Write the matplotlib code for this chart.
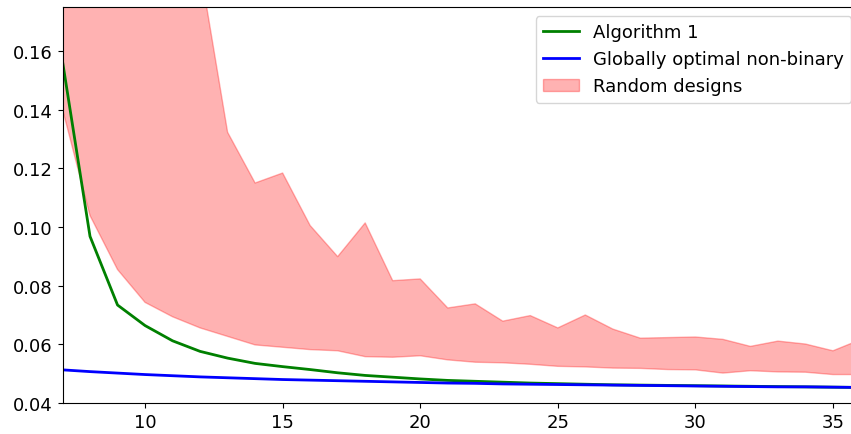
import numpy as np
import matplotlib
matplotlib.use("Agg")
import matplotlib.pyplot as plt

plt.rcParams['font.size'] = 13

# block lengths
n = list(range(7, 37))

algorithm_1 = [0.1565, 0.0968, 0.0734, 0.0664, 0.0612, 0.0576, 0.0553, 0.0535,
               0.0524, 0.0514, 0.0503, 0.0494, 0.0488, 0.0482, 0.0477, 0.0474,
               0.0471, 0.0468, 0.0466, 0.0464, 0.0462, 0.0461, 0.0460, 0.0459,
               0.0458, 0.0457, 0.0456, 0.0455, 0.0454, 0.0453]

optimal_nonbinary = [0.0513, 0.0507, 0.0502, 0.0497, 0.0493, 0.0489, 0.0486,
                     0.0483, 0.0480, 0.0478, 0.0476, 0.0474, 0.0472, 0.0470,
                     0.0468, 0.0467, 0.0465, 0.0464, 0.0463, 0.0462, 0.0461,
                     0.0460, 0.0459, 0.0458, 0.0457, 0.0456, 0.0455, 0.0455,
                     0.0454, 0.0453]

random_low = [0.1402, 0.1039, 0.0855, 0.0743, 0.0694, 0.0656, 0.0627, 0.0598,
              0.0590, 0.0582, 0.0578, 0.0558, 0.0556, 0.0561, 0.0547, 0.0539,
              0.0537, 0.0532, 0.0525, 0.0523, 0.0519, 0.0518, 0.0514, 0.0513,
              0.0502, 0.0510, 0.0506, 0.0505, 0.0497, 0.0497]

random_high = [0.35, 0.30, 0.26, 0.23, 0.21, 0.1885, 0.1323, 0.1150, 0.1184,
               0.1005, 0.0899, 0.1014, 0.0817, 0.0823, 0.0724, 0.0738, 0.0679,
               0.0698, 0.0656, 0.0700, 0.0652, 0.0621, 0.0623, 0.0625, 0.0617,
               0.0593, 0.0611, 0.0601, 0.0578, 0.0616]

fig = plt.figure(figsize=(8.51, 4.35), dpi=100)
# axes run a little past the right edge, like the cropped original
ax = fig.add_axes([62.5 / 851, 31 / 435, 798 / 851, 396 / 435])

ax.plot(n, algorithm_1, color='green', lw=2, label='Algorithm 1')
ax.plot(n, optimal_nonbinary, color='blue', lw=2,
        label='Globally optimal non-binary')
ax.fill_between(n, random_low, random_high, color='red', alpha=0.3,
                label='Random designs')

ax.set_xlim(7, 36)
ax.set_ylim(0.04, 0.175)
ax.set_xticks([10, 15, 20, 25, 30, 35])
ax.set_yticks(np.arange(0.04, 0.161, 0.02))
ax.yaxis.set_major_formatter(matplotlib.ticker.FormatStrFormatter('%.2f'))
ax.legend(loc='upper right')

fig.savefig('out.png', dpi=100)
